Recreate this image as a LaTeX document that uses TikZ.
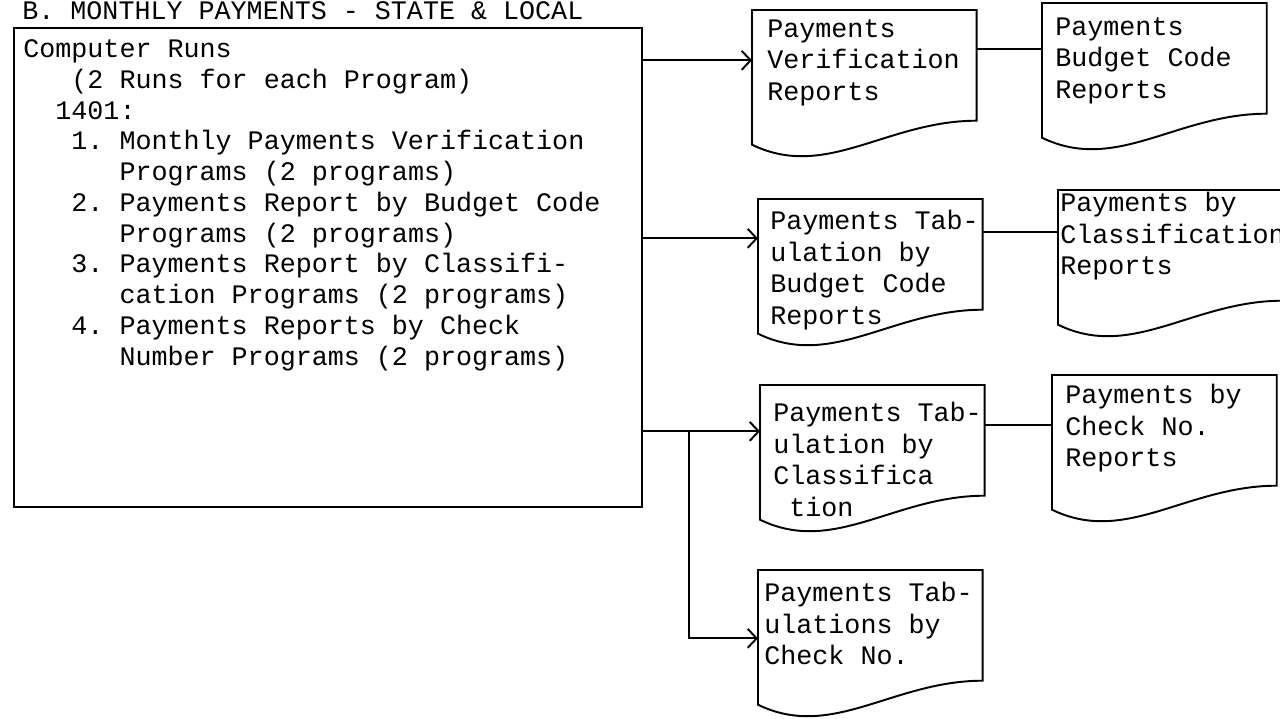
\documentclass[tikz,border=0pt]{standalone}
\usepackage{amsmath}
\usepackage{fontspec}
\setmonofont{Liberation Mono}
\usetikzlibrary{arrows.meta}

\newcommand{\docoutline}[1]{%
        \draw[line width=1.1pt] (#1.north west) -- (#1.north east) -- (#1.south east)
                .. controls ([xshift=-1.8cm]#1.south east) and ([xshift=1.48cm,yshift=-1.2cm]#1.south west)
                .. ([yshift=-0.48cm]#1.south west) -- cycle;}

\begin{document}
\begin{tikzpicture}
                \useasboundingbox (0,0) rectangle (25.6,-14.38);
                \node [anchor=base west, inner sep=0, font=\ttfamily\fontsize{15.2}{17.5}\selectfont] (T) at (0.44,-0.4) {B. MONTHLY PAYMENTS - STATE \& LOCAL};
                \node [draw, line width=1.1pt, anchor=north west, minimum width=12.56cm, minimum height=9.58cm, inner sep=0] (Runs) at (0.26,-0.54) {};
                \node [anchor=north west, inner sep=0, align=left, font=\ttfamily\fontsize{15.2}{17.5}\selectfont] (RunsText) at (0.46,-0.79) {%
                        Computer Runs\\
                        \hphantom{000}(2 Runs for each Program)\\
                        \hphantom{00}1401:\\
                        \hphantom{000}1. Monthly Payments Verification\\
                        \hphantom{000000}Programs (2 programs)\\
                        \hphantom{000}2. Payments Report by Budget Code\\
                        \hphantom{000000}Programs (2 programs)\\
                        \hphantom{000}3. Payments Report by Classifi-\\
                        \hphantom{000000}cation Programs (2 programs)\\
                        \hphantom{000}4. Payments Reports by Check\\
                        \hphantom{000000}Number Programs (2 programs)};
                \begin{scope}[every node/.style={minimum width=4.48cm, minimum height=2.2cm, inner sep=0, anchor=north west}]
                        \node (D1) at (15.04,-0.2) {};
                        \node (D2) at (20.84,-0.06) {};
                        \node (D3) at (15.16,-3.98) {};
                        \node (D4) at (21.16,-3.8) {};
                        \node (D5) at (15.2,-7.7) {};
                        \node (D6) at (21.04,-7.5) {};
                        \node (D7) at (15.16,-11.4) {};
                \end{scope}
                \foreach \d in {D1,D2,D3,D4,D5,D6,D7}
                        \docoutline{\d};
                \begin{scope}[every node/.style={anchor=north west, inner sep=0, align=left, font=\ttfamily\fontsize{15.2}{18}\selectfont}]
                        \node (D1t) at ([xshift=0.3cm,yshift=-0.18cm]D1.north west) {Payments\\Verification\\Reports};
                        \node (D2t) at ([xshift=0.26cm,yshift=-0.28cm]D2.north west) {Payments\\Budget Code\\Reports};
                        \node (D3t) at ([xshift=0.24cm,yshift=-0.22cm]D3.north west) {Payments Tab-\\ulation by\\Budget Code\\Reports};
                        \node (D4t) at ([xshift=0.04cm,yshift=-0.04cm]D4.north west) {Payments by\\Classification\\Reports};
                        \node (D5t) at ([xshift=0.26cm,yshift=-0.34cm]D5.north west) {Payments Tab-\\ulation by\\Classifica\\\hphantom{0}tion};
                        \node (D6t) at ([xshift=0.26cm,yshift=-0.18cm]D6.north west) {Payments by\\Check No.\\Reports};
                        \node (D7t) at ([xshift=0.12cm,yshift=-0.24cm]D7.north west) {Payments Tab-\\ulations by\\Check No.};
                \end{scope}
                \coordinate (Split) at (13.78,-8.62);
                \begin{scope}[every path/.style={line width=1.1pt, -{Straight Barb[length=0.18cm,width=0.38cm]}}]
                        \draw ([yshift=0.1cm]D1.west -| Runs.east) -- ([yshift=0.1cm]D1.west);
                        \draw ([yshift=0.32cm]D3.west -| Runs.east) -- ([yshift=0.32cm]D3.west);
                        \draw ([yshift=0.18cm]D5.west -| Runs.east) -- ([yshift=0.18cm]D5.west);
                        \draw (Split) |- ([yshift=-0.26cm]D7.west);
                \end{scope}
                \begin{scope}[every path/.style={line width=1.1pt}]
                        \draw ([yshift=0.32cm]D1.east) -- ([yshift=0.32cm]D1.east -| D2.west);
                        \draw ([yshift=0.44cm]D3.east) -- ([yshift=0.44cm]D3.east -| D4.west);
                        \draw ([yshift=0.3cm]D5.east) -- ([yshift=0.3cm]D5.east -| D6.west);
                \end{scope}
\end{tikzpicture}
\end{document}
